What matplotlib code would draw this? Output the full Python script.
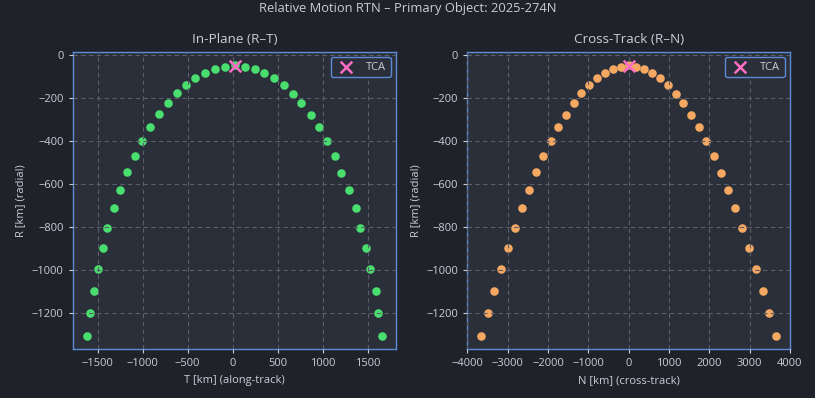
import matplotlib
matplotlib.use("Agg")
import matplotlib.pyplot as plt

# In-plane (R-T) data
t_vals = [-1615, -1581, -1544, -1500, -1444, -1393, -1322, -1256, -1178, -1089,
          -1011, -922, -822, -722, -619, -522, -422, -311, -200, -89,
          22,
          133, 244, 344, 456, 567, 667, 763, 867, 956, 1044,
          1133, 1207, 1289, 1367, 1419, 1485, 1530, 1589, 1619, 1656]
r_vals = [-1305, -1198, -1096, -993, -896, -802, -709, -625, -541, -467,
          -397, -332, -273, -220, -173, -136, -103, -80, -61, -52,
          -45,
          -52, -61, -80, -103, -136, -179, -220, -276, -332, -397,
          -467, -546, -625, -709, -802, -896, -993, -1096, -1198, -1305]
# Cross-track (R-N) data
n_vals = [-3653, -3479, -3331, -3157, -2983, -2810, -2636, -2463, -2289, -2116,
          -1917, -1744, -1545, -1347, -1174, -975, -777, -579, -380, -182,
          17,
          190, 388, 587, 785, 983, 1182, 1355, 1554, 1752, 1926,
          2124, 2298, 2471, 2645, 2818, 2992, 3165, 3339, 3488, 3661]
r_vals_n = [-1305, -1198, -1096, -993, -896, -802, -709, -625, -541, -467,
            -397, -332, -276, -220, -173, -136, -103, -80, -61, -52,
            -45,
            -52, -61, -80, -103, -136, -179, -220, -276, -332, -397,
            -467, -546, -625, -709, -802, -896, -993, -1096, -1198, -1305]
tca_t, tca_r = 22, -49
tca_n, tca_rn = 17, -49

title = "Relative Motion RTN \u2013 Primary Object: 2025-274N"
sub_titles = ["In-Plane (R\u2013T)", "Cross-Track (R\u2013N)"]
x_labels = ["T [km] (along-track)", "N [km] (cross-track)"]
y_label = "R [km] (radial)"
r_ticks = [0, -200, -400, -600, -800, -1000, -1200]

FIG_BG = "#1f2229"
AX_BG = "#2b2f3a"
TXT = "#c9cdd6"
SPINE = "#5b8bd6"
GRID = "#5a5f6a"
GREEN = "#4ade6e"
ORANGE = "#f5a862"
PINK = "#ff6ec4"

plt.rcParams['font.family'] = ['Open Sans', 'DejaVu Sans']

fig = plt.figure(figsize=(8.15, 3.98), dpi=100, facecolor=FIG_BG)
ax1 = fig.add_axes([0.0892, 0.1224, 0.397, 0.748])
ax2 = fig.add_axes([0.5734, 0.1224, 0.396, 0.748])

def style(ax, xs, ys, color, tx, ty, sub, xl):
    ax.set_facecolor(AX_BG)
    ax.scatter(xs, ys, s=38, color=color, zorder=2, linewidths=0)
    ax.scatter([tx], [ty], marker='x', s=70, color=PINK, linewidths=1.8,
               zorder=3, label="TCA")
    ax.set_axisbelow(False)
    ax.grid(True, color=GRID, linestyle=(0, (4, 3)), linewidth=0.8, zorder=2.5)
    for sp in ax.spines.values():
        sp.set_color(SPINE)
        sp.set_linewidth(1.0)
    ax.tick_params(colors=TXT, labelsize=8, length=3, color=TXT)
    ax.set_title(sub, color=TXT, fontsize=9.7, pad=6)
    ax.set_xlabel(xl, color=TXT, fontsize=8)
    ax.set_ylabel(y_label, color=TXT, fontsize=8)
    leg = ax.legend(loc="upper right", fontsize=8, facecolor=AX_BG,
                    edgecolor=SPINE, framealpha=1.0)
    for t in leg.get_texts():
        t.set_color(TXT)

style(ax1, t_vals, r_vals, GREEN, tca_t, tca_r, sub_titles[0], x_labels[0])
style(ax2, n_vals, r_vals_n, ORANGE, tca_n, tca_rn, sub_titles[1], x_labels[1])
ax1.set_yticks(r_ticks)
ax2.set_yticks(r_ticks)
ax2.set_xlim(-4000, 4000)

fig.suptitle(title, color=TXT, fontsize=9.3, y=0.995)
fig.savefig("out.png", dpi=100, facecolor=FIG_BG)
